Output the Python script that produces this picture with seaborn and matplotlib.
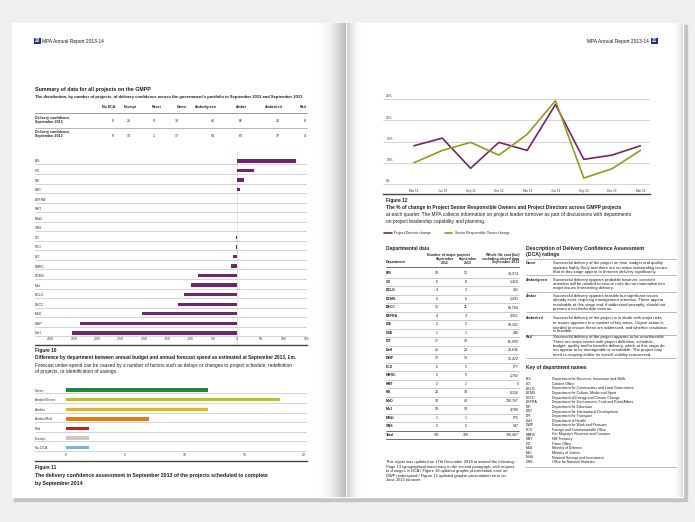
import numpy as np
import pandas as pd
import matplotlib
matplotlib.use("Agg")
import matplotlib.pyplot as plt
import seaborn as sns
from matplotlib.lines import Line2D
from matplotlib.patches import Rectangle
from matplotlib.colors import LinearSegmentedColormap

# ---- figure 10: budget vs forecast spend by department, £m
depts = ["BIS", "HO", "DfE", "DfID", "DEFRA", "HMT", "NS&I", "ONS", "CO", "FCO",
         "DfT", "HMRC", "DCMS", "MoJ", "DCLG", "DECC", "MoD", "DWP", "DoH"]
spend_diff = [127, 36, 14, 7, 1, 0.8, 0, -1, -1.2, -1.5,
              -8, -12, -83, -99, -113, -126, -203, -337, -354]
spend_ticks = [-400, -350, -300, -250, -200, -150, -100, -50, 0, 50, 100, 150]

# ---- figure 11: DCA of projects due to complete by Sep 2014
dca_labels = ["Green", "Amber/Green", "Amber", "Amber/Red", "Red", "Exempt", "No DCA"]
dca_counts = [12, 18, 12, 7, 2, 2, 2]
dca_colors = ["#1b8a3c", "#b7c61c", "#f0b116", "#e57a12", "#cf1d1d", "#c9c9c9", "#73b7e6"]
dca_ticks = [0, 5, 10, 15, 20]

# ---- figure 12: leader turnover per quarter, %
quarters = ["Mar 12", "Jun 12", "Sep 12", "Dec 12", "Mar 13", "Jun 13", "Sep 13", "Dec 13", "Mar 14"]
pd_change = [14.0, 15.8, 8.7, 14.8, 12.9, 23.7, 10.8, 11.8, 14.0]
sro_change = [10.0, 12.9, 14.8, 11.8, 16.7, 24.6, 6.4, 8.6, 12.9]
pct_ticks = [5, 10, 15, 20, 25]

# ---- summary table
sum_cols = ["No DCA", "Exempt", "Reset", "Green", "Amber/green", "Amber", "Amber/red", "Red"]
sum_2012 = [0, 21, 0, 32, 41, 66, 23, 8]
sum_2013 = [8, 13, 1, 17, 54, 63, 37, 4]

# ---- departmental data table
tab_depts = ["BIS", "CO", "DCLG", "DCMS", "DECC", "DEFRA", "DfE", "DfID", "DfT", "DoH",
             "DWP", "FCO", "HMRC", "HMT", "HO", "MoD", "MoJ", "NS&I", "ONS", "Total"]
proj_2012 = [10, 6, 4, 6, 12, 4, 2, 1, 17, 21, 13, 6, 9, 2, 20, 34, 18, 1, 5, 191]
proj_2013 = [12, 8, 3, 6, 11, 3, 2, 1, 18, 24, 13, 5, 9, 1, 18, 40, 19, 1, 5, 199]
wlc_2013 = ["14,374", "1,410", "281", "1,431", "64,784", "4,951", "10,162", "448", "61,909",
            "24,636", "15,422", "677", "1,782", "0", "8,316", "130,767", "4,789", "675",
            "547", "388,407"]

dept_names = ["Department for Business, Innovation and Skills", "Cabinet Office",
              "Department for Communities and Local Government",
              "Department for Culture, Media and Sport",
              "Department of Energy and Climate Change",
              "Department for Environment, Food and Rural Affairs",
              "Department for Education", "Department for International Development",
              "Department for Transport", "Department of Health",
              "Department for Work and Pensions", "Foreign and Commonwealth Office",
              "Her Majesty's Revenue and Customs", "HM Treasury", "Home Office",
              "Ministry of Defence", "Ministry of Justice",
              "National Savings and Investment", "Office for National Statistics"]

dca_desc = {
    "Green": ["Successful delivery of the project on time, budget and quality",
              "appears highly likely and there are no major outstanding issues",
              "that at this stage appear to threaten delivery significantly."],
    "Amber/green": ["Successful delivery appears probable however, constant",
                    "attention will be needed to ensure risks do not materialise into",
                    "major issues threatening delivery."],
    "Amber": ["Successful delivery appears feasible but significant issues",
              "already exist, requiring management attention. These appear",
              "resolvable at this stage and, if addressed promptly, should not",
              "present a cost/schedule overrun."],
    "Amber/red": ["Successful delivery of the project is in doubt with major risks",
                  "or issues apparent in a number of key areas. Urgent action is",
                  "needed to ensure these are addressed, and whether resolution",
                  "is feasible."],
    "Red": ["Successful delivery of the project appears to be unachievable.",
            "There are major issues with project definition, schedule,",
            "budget, quality and/or benefits delivery, which at this stage do",
            "not appear to be manageable or resolvable. The project may",
            "need re-scoping and/or its overall viability reassessed."],
}

purple = "#74246c"
olive = "#8c9d20"
ink = "#1e1e1e"

sns.set_theme(style="white")
plt.rcParams["font.family"] = ["Liberation Sans", "DejaVu Sans"]

W, H = 695, 522
fig = plt.figure(figsize=(W / 100, H / 100), dpi=100, facecolor="#efefef")


def txt(x, y, s, size=2.5, weight="normal", ha="left", va="center", color=ink, **kw):
    fig.text(x / W, 1 - y / H, s, fontsize=size, fontweight=weight, ha=ha, va=va,
             color=color, **kw)


def rule(x0, x1, y, lw=0.4, color="#b8b8b8"):
    fig.add_artist(Line2D([x0 / W, x1 / W], [1 - y / H, 1 - y / H],
                          transform=fig.transFigure, lw=lw, color=color))


def panel(x0, y0, x1, y1):
    ax = fig.add_axes([x0 / W, 1 - y1 / H, (x1 - x0) / W, (y1 - y0) / H])
    ax.set_facecolor("none")
    return ax


# ---- paper background
bg = fig.add_axes([0, 0, 1, 1])
bg.axis("off")
bg.add_patch(Rectangle((14, 25), 673, 476, color="#c4c4c4", zorder=0))
bg.add_patch(Rectangle((12, 23), 334, 474, color="white", zorder=0.5))
bg.add_patch(Rectangle((347, 23), 336, 474, color="white", zorder=0.5))
shade = LinearSegmentedColormap.from_list("shade", ["#ffffff", "#b9b9b9"])
ramp = np.linspace(0, 1, 60)[None, :] ** 2
bg.imshow(ramp, extent=(316, 346, 497, 23), cmap=shade, aspect="auto", zorder=1)
bg.imshow(ramp[:, ::-1], extent=(347, 362, 497, 23), cmap=shade, aspect="auto", zorder=1,
          alpha=0.7)
bg.imshow(ramp, extent=(672, 683, 497, 23), cmap=shade, aspect="auto", zorder=1, alpha=0.5)
bg.set_xlim(0, W)
bg.set_ylim(H, 0)

# ---- running heads
txt(35, 41, "20", size=3.3, weight="bold", color="white",
    bbox=dict(facecolor="#1f2d86", edgecolor="none", pad=0.4))
txt(41.5, 41, "MPA Annual Report 2013-14", size=3.5)
txt(649, 41, "MPA Annual Report 2013-14", size=3.5, ha="right")
txt(652, 41, "21", size=3.3, weight="bold", color="white",
    bbox=dict(facecolor="#1f2d86", edgecolor="none", pad=0.4))

# ---- summary table
txt(35, 90, "Summary of data for all projects on the GMPP", size=3.8, weight="bold")
txt(35, 97, "The distribution, by number of projects, of delivery confidence across the "
    "government's portfolio in September 2012 and September 2013", size=3.0, weight="bold")
head_x = [115, 137, 162, 187, 217, 247, 283, 307]
val_x = [114, 131, 155, 179, 215, 243, 280, 306]
for c, hx in zip(sum_cols, head_x):
    txt(hx, 107, c, size=2.5, weight="bold", ha="right")
rule(35, 307, 112.7, lw=0.5, color="#777777")
for yy, vals, yr in [(121, sum_2012, "2012"), (135.5, sum_2013, "2013")]:
    txt(35, yy - 3, "Delivery confidence,", size=2.6, weight="bold")
    txt(35, yy + 1, "September " + yr, size=2.6, weight="bold")
    for v, vx in zip(vals, val_x):
        txt(vx, yy, str(v), size=2.5, ha="right")
rule(35, 307, 127.7, lw=0.5, color="#9a9a9a")

# ---- figure 10
ax1 = panel(35, 152, 307, 345)
sns.barplot(x=spend_diff, y=depts, orient="h", color=purple, saturation=1,
            width=0.36, linewidth=0, ax=ax1)
ax1.set_xlim(-433.5, 150.2)
ax1.set_ylim(19.27, -0.94)
ax1.hlines(np.arange(len(depts)) + 0.36, -433.5, 150.2, color="#bcbcbc", lw=0.45, zorder=0)
ax1.axvline(0, color="#d2d2d2", lw=0.4, zorder=0)
ax1.set_xticks(spend_ticks)
ax1.set_xticklabels([str(t) for t in spend_ticks])
ax1.tick_params(axis="x", length=0, pad=-5.4, labelsize=2.4, labelcolor="#333333")
ax1.set_yticks(range(len(depts)))
ax1.set_yticklabels(depts, ha="left")
ax1.tick_params(axis="y", length=0, pad=0, labelsize=2.4, labelcolor="#333333")
for s in ["top", "right", "left"]:
    ax1.spines[s].set_visible(False)
ax1.spines["bottom"].set_color("#444444")
ax1.spines["bottom"].set_linewidth(1.0)
ax1.set_xlabel("")
ax1.set_ylabel("")

txt(35, 350.5, "Figure 10", size=3.4, weight="bold")
txt(35, 358, "Difference by department between annual budget and annual forecast spend as "
    "estimated at September 2013, £m.", size=3.4, weight="bold")
txt(35, 365, "Forecast under-spend can be caused by a number of factors such as delays or "
    "changes to project schedule, redefinition", size=3.4)
txt(35, 372, "of projects, or identification of savings.", size=3.4)

# ---- figure 11
ax2 = panel(35, 381, 307, 461)
sns.barplot(x=dca_counts, y=dca_labels, hue=dca_labels, orient="h",
            palette=dict(zip(dca_labels, dca_colors)), saturation=1, legend=False,
            width=0.34, linewidth=0, ax=ax2)
ax2.set_xlim(-2.58, 20.28)
ax2.set_ylim(7.38, -0.94)
ax2.hlines(np.arange(len(dca_labels)) + 0.34, -2.58, 20.28, color="#bcbcbc", lw=0.45,
           zorder=0)
ax2.set_xticks(dca_ticks)
ax2.set_xticklabels([str(t) for t in dca_ticks])
ax2.tick_params(axis="x", length=0, pad=-5.4, labelsize=2.4, labelcolor="#333333")
ax2.set_yticks(range(len(dca_labels)))
ax2.set_yticklabels(dca_labels, ha="left")
ax2.tick_params(axis="y", length=0, pad=0, labelsize=2.4, labelcolor="#333333")
for s in ["top", "right", "left"]:
    ax2.spines[s].set_visible(False)
ax2.spines["bottom"].set_color("#444444")
ax2.spines["bottom"].set_linewidth(1.0)
ax2.set_xlabel("")
ax2.set_ylabel("")

txt(35, 467, "Figure 11", size=3.4, weight="bold")
txt(35, 475, "The delivery confidence assessment in September 2013 of the projects "
    "scheduled to complete", size=3.7, weight="bold")
txt(35, 483, "by September 2014", size=3.7, weight="bold")

# ---- figure 12
turn = pd.DataFrame({
    "quarter": quarters + quarters,
    "change": pd_change + sro_change,
    "series": ["Project Director change"] * len(quarters)
    + ["Senior Responsible Owner change"] * len(quarters),
})
ax3 = panel(383, 92, 650, 194)
sns.lineplot(data=turn, x="quarter", y="change", hue="series", palette=[purple, olive],
             sort=False, lw=1.2, ax=ax3)
handles, labels = ax3.get_legend_handles_labels()
ax3.get_legend().remove()
ax3.set_xlim(-1.095, 8.34)
ax3.set_ylim(2.65, 26.65)
ax3.set_yticks(pct_ticks)
ax3.yaxis.grid(True, color="#c4c4c4", lw=0.5)
ax3.set_axisbelow(True)
ax3.tick_params(axis="y", length=0, labelleft=False)
for t in pct_ticks:
    ax3.text(0.012, t + 0.15, f"{t}%", transform=ax3.get_yaxis_transform(),
             fontsize=2.3, ha="left", va="bottom", color="#333333")
ax3.tick_params(axis="x", length=0, pad=-3.9, labelsize=2.2, labelcolor="#333333")
for s in ["top", "right", "left"]:
    ax3.spines[s].set_visible(False)
ax3.spines["bottom"].set_color("#444444")
ax3.spines["bottom"].set_linewidth(1.0)
ax3.set_xlabel("")
ax3.set_ylabel("")

txt(386, 201, "Figure 12", size=3.4, weight="bold")
txt(386, 208, "The % of change in Project Senior Responsible Owners and Project Directors "
    "across GMPP projects", size=3.5, weight="bold")
txt(386, 215, "at each quarter. The MPA collects information on project leader turnover as "
    "part of discussions with departments", size=3.5)
txt(386, 222, "on project leadership capability and planning.", size=3.5)
fig.legend(handles, labels, loc="center left", bbox_to_anchor=(384 / W, 1 - 233 / H),
           ncol=2, fontsize=2.5, frameon=False, handlelength=2.2, handletextpad=0.7,
           columnspacing=4, borderpad=0, borderaxespad=0)

# ---- departmental data table
txt(386, 248.3, "Departmental data", size=3.5, weight="bold")
txt(449, 255, "Number of major projects", size=2.5, weight="bold", ha="center")
txt(445, 258.8, "September", size=2.5, weight="bold", ha="center")
txt(468, 258.8, "September", size=2.5, weight="bold", ha="center")
txt(445, 262.5, "2012", size=2.5, weight="bold", ha="center")
txt(468, 262.5, "2013", size=2.5, weight="bold", ha="center")
txt(519, 255, "Whole life cost (£m)", size=2.5, weight="bold", ha="right")
txt(519, 258.8, "excluding closed data", size=2.5, weight="bold", ha="right")
txt(519, 262.5, "September 2013", size=2.5, weight="bold", ha="right")
txt(386, 262.5, "Department", size=2.5, weight="bold")
rule(386, 519, 266.7, lw=0.6, color="#555555")
for i, d in enumerate(tab_depts):
    yy = 273.3 + i * 8.5
    txt(386, yy, d, size=2.5, weight="bold")
    txt(437, yy, str(proj_2012[i]), size=2.5, ha="center")
    txt(466, yy, str(proj_2013[i]), size=2.5, ha="center")
    txt(519, yy, wlc_2013[i], size=2.5, ha="right")
    if i < len(tab_depts) - 2:
        rule(386, 519, yy + 4.25, lw=0.6, color="#c2c2c2")
rule(386, 519, 273.3 + 18 * 8.5 + 4.25, lw=0.6, color="#555555")
rule(386, 519, 273.3 + 19 * 8.5 + 4.25, lw=0.6, color="#555555")

note = ["This report was updated on 17th December 2014 to amend the following:",
        "Page 13 typographical inaccuracy in the second paragraph, with respect",
        "to changes in DCA / Figure 10 updated graphic presentation error on",
        "DWP underspend / Figure 12 updated graphic presentation error on",
        "June 2013 turnover."]
for i, line in enumerate(note):
    txt(386, 462.3 + i * 4.5, line, size=2.9)

# ---- DCA descriptions
txt(526, 248.3, "Description of Delivery Confidence Assessment", size=3.7, weight="bold")
txt(526, 254.5, "(DCA) ratings", size=3.7, weight="bold")
rule(526, 676, 259, lw=0.5, color="#9a9a9a")
desc_top = {"Green": 263.3, "Amber/green": 279.5, "Amber": 296, "Amber/red": 318.3,
            "Red": 337.3}
for k, lines in dca_desc.items():
    y0 = desc_top[k]
    txt(526, y0, k, size=2.5, weight="bold")
    for j, line in enumerate(lines):
        txt(553, y0 + j * 4.4, line, size=3.0)
    rule(526, 676, y0 + len(lines) * 4.4 - 1.2, lw=0.5, color="#9a9a9a")

txt(526, 367.3, "Key of department names", size=3.5, weight="bold")
for i, (ab, nm) in enumerate(zip(tab_depts[:-1], dept_names)):
    yy = 379.3 + i * 4.6
    txt(526, yy, ab, size=2.5)
    txt(552, yy, nm, size=2.5)
rule(526, 676, 466.7, lw=0.5, color="#9a9a9a")

fig.savefig("out.png", dpi=100, facecolor=fig.get_facecolor())
